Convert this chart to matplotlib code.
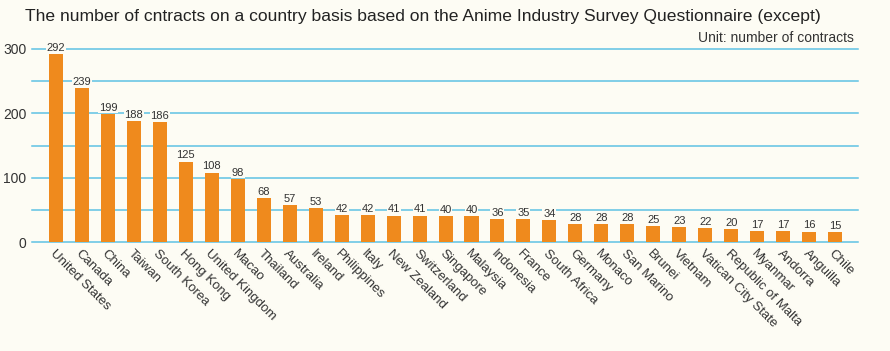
import matplotlib.pyplot as plt

countries = ["United States", "Canada", "China", "Taiwan", "South Korea", "Hong Kong",
             "United Kingdom", "Macao", "Thailand", "Australia", "Ireland", "Philippines",
             "Italy", "New Zealand", "Switzerland", "Singapore", "Malaysia", "Indonesia",
             "France", "South Africa", "Germany", "Monaco", "San Marino", "Brunei",
             "Vietnam", "Vatican City State", "Republic of Malta", "Myanmar", "Andorra",
             "Anguilla", "Chile"]
contracts = [292, 239, 199, 188, 186, 125, 108, 98, 68, 57, 53, 42, 42, 41, 41, 40, 40,
             36, 35, 34, 28, 28, 28, 25, 23, 22, 20, 17, 17, 16, 15]
y_ticks = [0, 100, 200, 300]
grid_levels = [0, 50, 100, 150, 200, 250, 300]

bg = "#fdfcf4"
bar_color = "#ef8a1d"
grid_color = "#5ec2e4"
text_color = "#333333"

plt.rcParams["font.family"] = ["Liberation Sans", "DejaVu Sans"]

fig = plt.figure(figsize=(8.9, 3.51), dpi=100, facecolor=bg)
ax = fig.add_axes([0.036, 0.3105, 0.928, 0.5499], facecolor=bg)

x = list(range(len(countries)))
for g in grid_levels:
    ax.axhline(g, color=grid_color, lw=1.1, zorder=1, clip_on=False)
ax.bar(x, contracts, width=0.54, color=bar_color, zorder=2)

for xi, v in zip(x, contracts):
    ax.text(xi, v + 2, str(v), ha="center", va="bottom", fontsize=8, color=text_color,
            zorder=3, bbox=dict(facecolor=bg, edgecolor="none", pad=0.6))

ax.set_xlim(-0.92, 30.88)
ax.set_ylim(0, 300)
ax.set_yticks(y_ticks)
ax.set_yticklabels([str(t) for t in y_ticks], fontsize=10, color=text_color)
ax.tick_params(axis="y", length=0, pad=4)
ax.set_xticks(x)
ax.set_xticklabels(countries, rotation=-45, ha="left", va="top", rotation_mode="anchor",
                   fontsize=9.5, color=text_color)
ax.tick_params(axis="x", length=0, pad=4)
for s in ax.spines.values():
    s.set_visible(False)

fig.text(0.028, 0.952, "The number of cntracts on a country basis based on the Anime Industry "
         "Survey Questionnaire (except)", fontsize=12.6, color="#222222", va="center")
fig.text(0.959, 0.891, "Unit: number of contracts", fontsize=10, color=text_color,
         ha="right", va="center")

fig.savefig("out.png", dpi=100, facecolor=bg)
